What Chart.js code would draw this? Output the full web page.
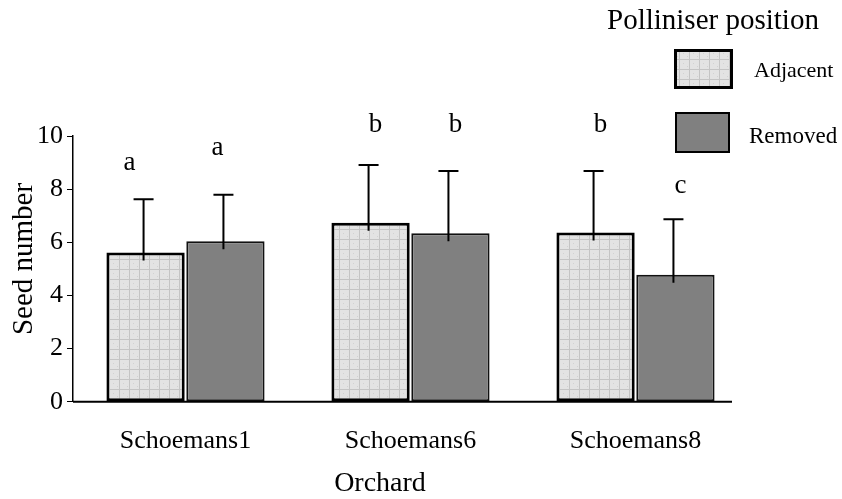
<!DOCTYPE html>
<html>
<head>
<meta charset="utf-8">
<script src="https://cdn.jsdelivr.net/npm/chart.js@4"></script>
<style>
  html, body { margin: 0; padding: 0; background: #fff; }
  #wrap { width: 842px; height: 499px; }
</style>
</head>
<body>
<div id="wrap"><canvas id="c" width="842" height="499"></canvas></div>
<script>
// ---- data ----
const categories = ['Schoemans1', 'Schoemans6', 'Schoemans8'];
const seriesNames = ['Adjacent', 'Removed'];
const adjacentMean = [5.62, 6.74, 6.37];
const removedMean  = [6.04, 6.34, 4.78];
const adjacentSD   = [2.0, 2.17, 2.31];
const removedSD    = [1.75, 2.34, 2.09];
const adjacentLetters = ['a', 'b', 'b'];
const removedLetters  = ['a', 'b', 'c'];
const adjacentLetterY = [8.71, 10.14, 10.14];
const removedLetterY  = [9.27, 10.14, 7.84];
const yTicks = [0, 2, 4, 6, 8, 10];
const legendTitle = 'Polliniser position';
const xTitle = 'Orchard';
const yTitle = 'Seed number';

const SERIF = '"Liberation Serif", "Times New Roman", serif';

// hatched light grey fill for "Adjacent"
function makePattern() {
  const p = document.createElement('canvas');
  p.width = 10; p.height = 10;
  const g = p.getContext('2d');
  g.fillStyle = '#e3e3e3';
  g.fillRect(0, 0, 10, 10);
  g.fillStyle = '#d2d2d2';
  g.fillRect(3, 3, 1, 1);
  g.fillRect(7, 6, 1, 1);
  g.fillStyle = '#c4c4c4';
  g.fillRect(9, 0, 1, 10);
  g.fillRect(0, 9, 10, 1);
  return document.getElementById('c').getContext('2d').createPattern(p, 'repeat');
}
const adjPattern = makePattern();

const errs = [adjacentSD, removedSD];
const letters = [adjacentLetters, removedLetters];
const letterY = [adjacentLetterY, removedLetterY];

const extras = {
  id: 'extras',
  afterDatasetsDraw(chart) {
    const ctx = chart.ctx;
    const ys = chart.scales.y;
    const area = chart.chartArea;
    ctx.save();
    // x-axis line
    ctx.strokeStyle = '#000';
    ctx.lineWidth = 2;
    const y0 = ys.getPixelForValue(0);
    ctx.beginPath();
    ctx.moveTo(area.left, y0);
    ctx.lineTo(732, y0);
    ctx.stroke();
    // error bars and letters
    chart.data.datasets.forEach((ds, di) => {
      const meta = chart.getDatasetMeta(di);
      meta.data.forEach((bar, i) => {
        const v = ds.data[i];
        const x = bar.x - 2;
        const yTop = ys.getPixelForValue(v + errs[di][i]);
        const yBot = ys.getPixelForValue(v) + 8;
        ctx.strokeStyle = '#000';
        ctx.lineWidth = 2;
        ctx.beginPath();
        ctx.moveTo(x, yBot);
        ctx.lineTo(x, yTop);
        ctx.moveTo(x - 10, yTop);
        ctx.lineTo(x + 10, yTop);
        ctx.stroke();
        ctx.fillStyle = '#000';
        ctx.font = '27px ' + SERIF;
        ctx.textAlign = 'center';
        ctx.textBaseline = 'alphabetic';
        const dx = i === 0 ? (di === 0 ? -16 : -8) : 5;
        ctx.fillText(letters[di][i], bar.x + dx, ys.getPixelForValue(letterY[di][i]));
      });
    });
    // axis titles
    ctx.fillStyle = '#000';
    ctx.textAlign = 'center';
    ctx.textBaseline = 'alphabetic';
    ctx.font = '28px ' + SERIF;
    ctx.fillText(xTitle, 380, 491);
    ctx.save();
    ctx.translate(32, 259);
    ctx.rotate(-Math.PI / 2);
    ctx.font = '29px ' + SERIF;
    ctx.fillText(yTitle, 0, 0);
    ctx.restore();
    // legend
    ctx.fillStyle = '#000';
    ctx.textAlign = 'left';
    ctx.textBaseline = 'alphabetic';
    ctx.font = '29px ' + SERIF;
    ctx.fillText(legendTitle, 607, 29);
    const boxes = [
      { x: 674, y: 49, w: 59, h: 40, lw: 3, tx: 754, ty: 77, fs: 22 },
      { x: 675, y: 112, w: 55, h: 41, lw: 2, tx: 749, ty: 143, fs: 23 }
    ];
    chart.data.datasets.forEach((ds, di) => {
      const b = boxes[di];
      ctx.fillStyle = ds.backgroundColor;
      ctx.fillRect(b.x, b.y, b.w, b.h);
      ctx.strokeStyle = '#000';
      ctx.lineWidth = b.lw;
      ctx.strokeRect(b.x + b.lw / 2, b.y + b.lw / 2, b.w - b.lw, b.h - b.lw);
      ctx.fillStyle = '#000';
      ctx.font = b.fs + 'px ' + SERIF;
      ctx.fillText(ds.label, b.tx, b.ty);
    });
    ctx.restore();
  }
};

new Chart(document.getElementById('c'), {
  type: 'bar',
  data: {
    labels: categories,
    datasets: [
      {
        label: seriesNames[0],
        data: adjacentMean,
        backgroundColor: adjPattern,
        borderColor: '#000',
        borderWidth: 3,
        borderSkipped: false,
        categoryPercentage: 0.71,
        barPercentage: 0.98
      },
      {
        label: seriesNames[1],
        data: removedMean,
        backgroundColor: '#808080',
        borderColor: '#111',
        borderWidth: 2,
        borderSkipped: false,
        categoryPercentage: 0.71,
        barPercentage: 0.98
      }
    ]
  },
  options: {
    responsive: false,
    animation: false,
    devicePixelRatio: 1,
    layout: { padding: { top: 136, right: 94, bottom: 18, left: 33 } },
    plugins: { legend: { display: false }, tooltip: { enabled: false } },
    scales: {
      x: {
        grid: { display: false, drawTicks: false },
        border: { display: false },
        ticks: { color: '#000', font: { family: SERIF, size: 26 }, padding: 24, maxRotation: 0 },
        title: { display: false }
      },
      y: {
        min: 0, max: 10,
        afterBuildTicks(scale) { scale.ticks = yTicks.map(v => ({ value: v })); },
        grid: { display: true, drawOnChartArea: false, drawTicks: true, tickLength: 6, color: '#000', lineWidth: 1 },
        border: { display: true, color: '#000', width: 1.5 },
        ticks: { color: '#000', font: { family: SERIF, size: 26 }, padding: 4 },
        title: { display: false }
      }
    }
  },
  plugins: [extras]
});
</script>
</body>
</html>
